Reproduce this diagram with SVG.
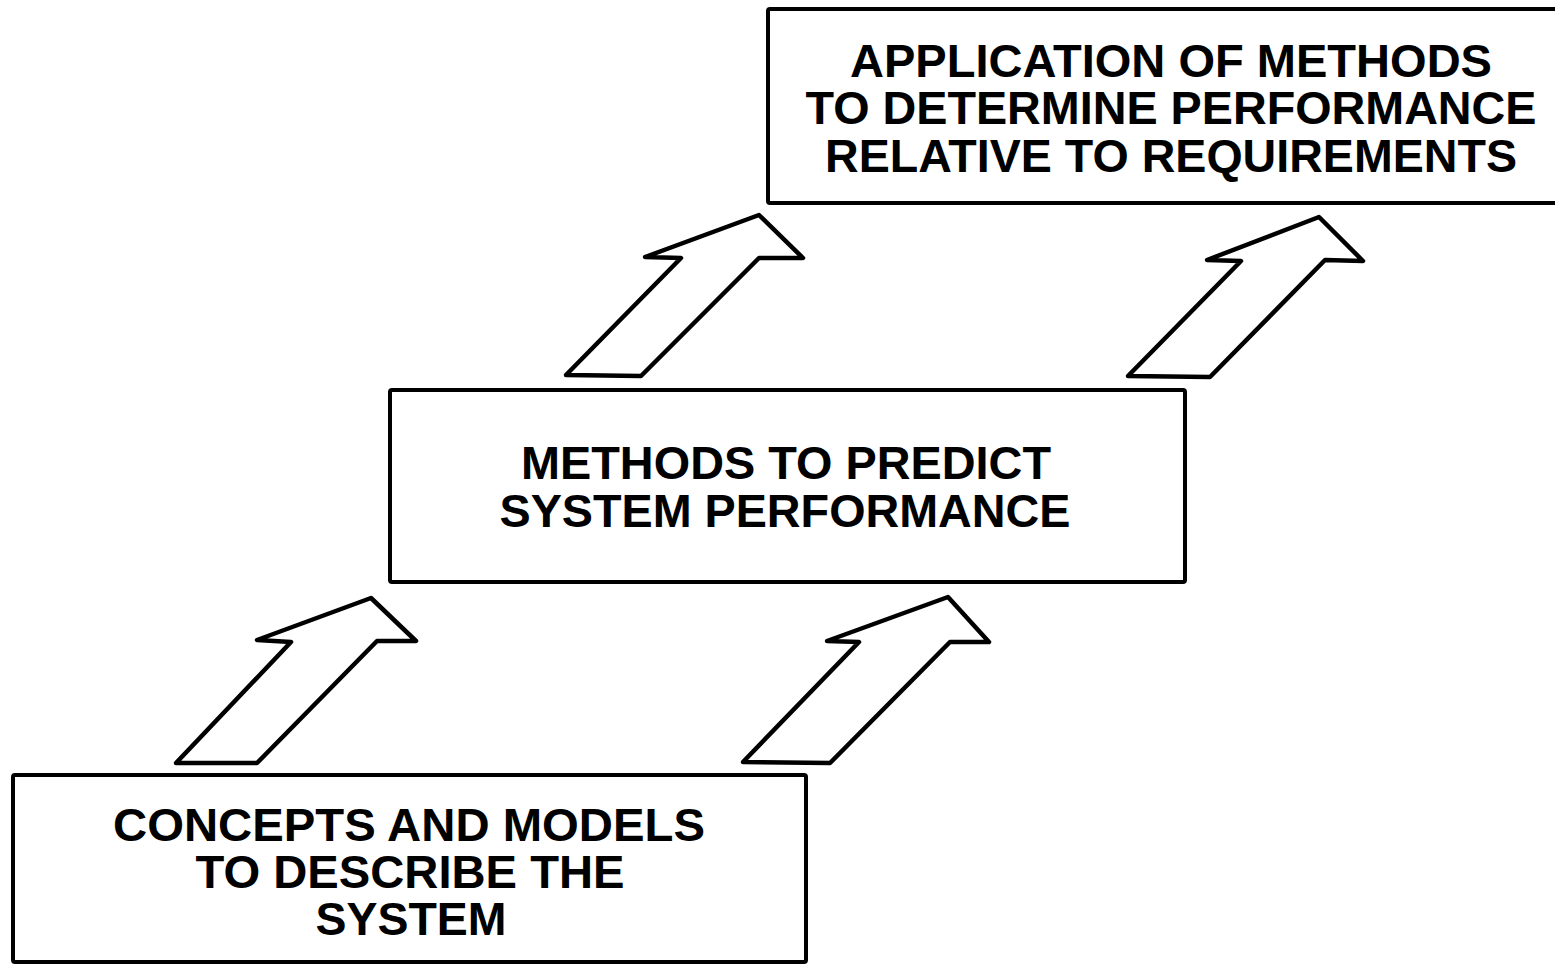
<svg xmlns="http://www.w3.org/2000/svg" width="1555" height="964" viewBox="0 0 1555 964">
  <style>
    .box { fill: #fff; stroke: #000; stroke-width: 4; stroke-linejoin: round; }
    .arrow { fill: #fff; stroke: #000; stroke-width: 4.5; stroke-linejoin: round; }
    .label { font-family: "Liberation Sans", Arial, Helvetica, sans-serif; font-weight: bold; font-size: 47px; fill: #000; text-anchor: middle; }
  </style>
  <rect width="1555" height="964" fill="#fff"/>

  <!-- block arrows between the levels -->
  <g id="connectors">
    <polygon class="arrow" points="371,598 416,641 377,641 257,763 176,763 291,642 257,640"/>
    <polygon class="arrow" points="948,597 989,642 950,642 830,763 743,762 859,642 827,641"/>
    <polygon class="arrow" points="759,215 803,258 759,258 641,376 566,375 681,258 645,257"/>
    <polygon class="arrow" points="1319,217 1363,261 1325,260 1210,377 1128,376 1241,261 1207,260"/>
  </g>

  <g id="concepts">
    <rect class="box" x="13" y="775" width="793" height="187" rx="2"/>
    <text class="label" x="409" y="841" textLength="592" lengthAdjust="spacingAndGlyphs">CONCEPTS AND MODELS</text>
    <text class="label" x="410" y="888" textLength="429" lengthAdjust="spacingAndGlyphs">TO DESCRIBE THE</text>
    <text class="label" x="411" y="935" textLength="191" lengthAdjust="spacingAndGlyphs">SYSTEM</text>
  </g>

  <g id="methods">
    <rect class="box" x="390" y="390" width="795" height="192" rx="2"/>
    <text class="label" x="786" y="479" textLength="530" lengthAdjust="spacingAndGlyphs">METHODS TO PREDICT</text>
    <text class="label" x="785" y="527" textLength="571" lengthAdjust="spacingAndGlyphs">SYSTEM PERFORMANCE</text>
  </g>

  <g id="application">
    <rect class="box" x="768" y="9" width="800" height="194" rx="2"/>
    <text class="label" x="1171" y="77" textLength="642" lengthAdjust="spacingAndGlyphs">APPLICATION OF METHODS</text>
    <text class="label" x="1171" y="124" textLength="731" lengthAdjust="spacingAndGlyphs">TO DETERMINE PERFORMANCE</text>
    <text class="label" x="1171" y="172" textLength="692" lengthAdjust="spacingAndGlyphs">RELATIVE TO REQUIREMENTS</text>
  </g>
</svg>
